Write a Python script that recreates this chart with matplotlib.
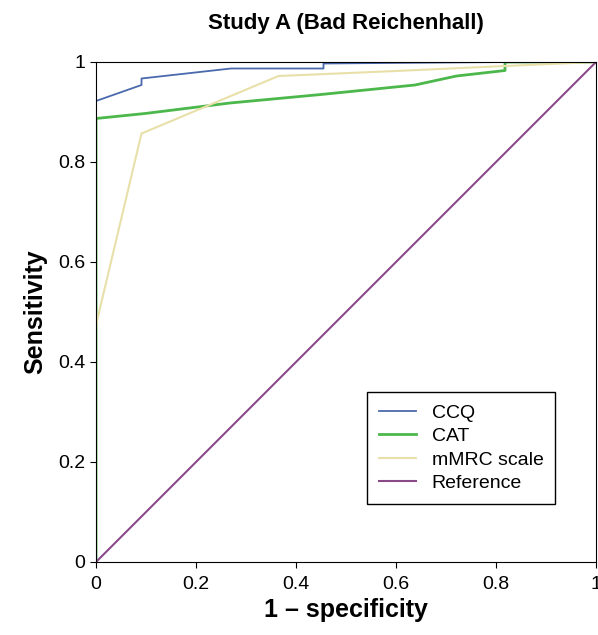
import matplotlib
matplotlib.use("Agg")
import matplotlib.pyplot as plt
from matplotlib.ticker import FuncFormatter

plt.rcParams["font.family"] = ["Liberation Sans", "DejaVu Sans"]

ccq_x = [0, 0, 0.091, 0.091, 0.27, 0.455, 0.455, 0.82, 1.0]
ccq_y = [0, 0.922, 0.954, 0.967, 0.987, 0.987, 0.997, 1.0, 1.0]

cat_x = [0, 0, 0.098, 0.268, 0.45, 0.638, 0.721, 0.818, 0.818, 1.0]
cat_y = [0, 0.887, 0.897, 0.918, 0.935, 0.954, 0.972, 0.983, 1.0, 1.0]

mmrc_x = [0, 0, 0.091, 0.365, 0.6, 0.818, 1.0]
mmrc_y = [0, 0.474, 0.857, 0.972, 0.982, 0.992, 1.0]

ref_x = [0, 1]
ref_y = [0, 1]

fig = plt.figure(figsize=(5.98, 6.35), dpi=100)
ax = fig.add_axes([96 / 598, 1 - 562 / 635, 500 / 598, 500 / 635])

ax.plot(ccq_x, ccq_y, color="#4a6aad", lw=1.3, label="CCQ")
ax.plot(cat_x, cat_y, color="#4cb84c", lw=2.0, label="CAT")
ax.plot(mmrc_x, mmrc_y, color="#e8e0a8", lw=1.5, label="mMRC scale")
ax.plot(ref_x, ref_y, color="#8a4a8a", lw=1.5, label="Reference")

ax.set_xlim(0, 1)
ax.set_ylim(0, 1)
ticks = [0, 0.2, 0.4, 0.6, 0.8, 1]
fmt = FuncFormatter(lambda v, p: "0" if v == 0 else ("1" if v == 1 else f"{v:g}"))
ax.set_xticks(ticks)
ax.set_yticks(ticks)
ax.xaxis.set_major_formatter(fmt)
ax.yaxis.set_major_formatter(fmt)
ax.tick_params(labelsize=14, length=4)
ax.tick_params(axis="x", pad=6)

ax.set_xlabel("1 – specificity", fontsize=18, fontweight="bold", labelpad=4)
ax.set_ylabel("Sensitivity", fontsize=18, fontweight="bold", labelpad=8)
ax.set_title("Study A (Bad Reichenhall)", fontsize=16, fontweight="bold", pad=24)

leg = ax.legend(loc="lower right", bbox_to_anchor=(0.93, 0.105), fontsize=14,
                fancybox=False, edgecolor="black", framealpha=1,
                handlelength=1.9, labelspacing=0.3, borderpad=0.6,
                borderaxespad=0.3)
leg.get_frame().set_linewidth(1.0)

fig.savefig("out.png", dpi=100)
